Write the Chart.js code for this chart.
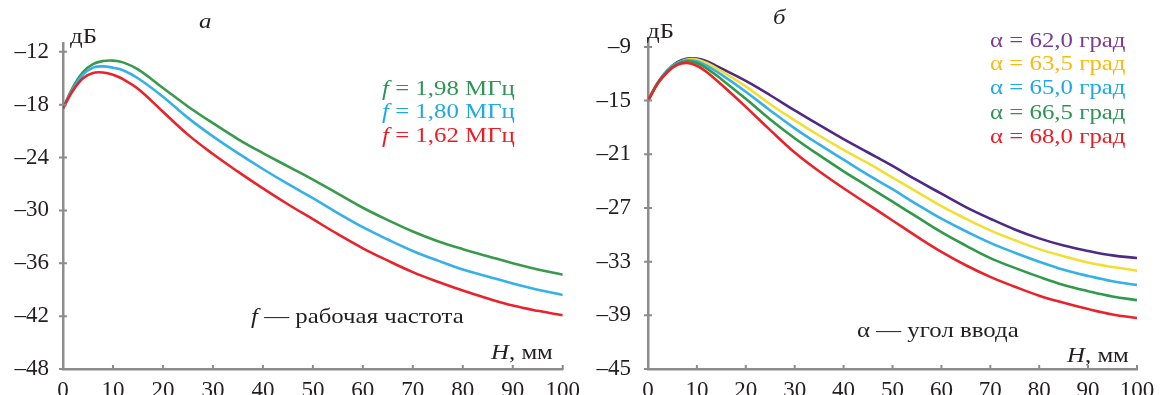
<!DOCTYPE html>
<html>
<head>
<meta charset="utf-8">
<script src="https://cdn.jsdelivr.net/npm/chart.js@4/dist/chart.umd.min.js"></script>
<style>
  html, body { margin: 0; padding: 0; background: #fff; }
  #wrap { position: relative; width: 1163px; height: 395px; overflow: hidden; font-family: "Liberation Serif", "Times New Roman", serif; }
  canvas { position: absolute; top: 0; }
  .t { position: absolute; white-space: nowrap; font-size: 22px; line-height: 24px; color: #231f20; transform: scaleX(1.13); transform-origin: 0 0; }
  .i { font-style: italic; }
</style>
</head>
<body>
<div id="wrap">
  <canvas id="cvA" width="580" height="395" style="left:0"></canvas>
  <canvas id="cvB" width="583" height="395" style="left:580px"></canvas>

  <div class="t" style="left:70px;top:24px">дБ</div>
  <div class="t i" style="left:199px;top:9px">а</div>
  <div class="t" style="left:382px;top:76px;color:#2e9455"><span class="i">f</span> = 1,98 МГц</div>
  <div class="t" style="left:382px;top:99px;color:#1ea9e6"><span class="i">f</span> = 1,80 МГц</div>
  <div class="t" style="left:382px;top:123px;color:#ec1c24"><span class="i">f</span> = 1,62 МГц</div>
  <div class="t" style="left:251px;top:304px"><span class="i">f</span> — рабочая частота</div>
  <div class="t" style="left:491px;top:340px"><span class="i">H</span>, мм</div>

  <div class="t" style="left:647px;top:19px">дБ</div>
  <div class="t i" style="left:773px;top:5px">б</div>
  <div class="t" style="left:990px;top:28px;color:#7b3b94">α = 62,0 град</div>
  <div class="t" style="left:990px;top:51px;color:#fdb913">α = 63,5 град</div>
  <div class="t" style="left:990px;top:75px;color:#1ea9e6">α = 65,0 град</div>
  <div class="t" style="left:990px;top:100px;color:#2e9455">α = 66,5 град</div>
  <div class="t" style="left:990px;top:124px;color:#ec1c24">α = 68,0 град</div>
  <div class="t" style="left:857px;top:318px">α — угол ввода</div>
  <div class="t" style="left:1067px;top:343px"><span class="i">H</span>, мм</div>
</div>

<script>
// ---- data ----
const hMm = [0, 2, 4, 6, 8, 10, 12, 15, 20, 25, 30, 35, 40, 45, 50, 55, 60, 65, 70, 75, 80, 85, 90, 95, 100];

// left, "а": f = rabochaya chastota
const f198 = [-18.4, -16.0, -14.3, -13.4, -13.05, -13.0, -13.2, -14.0, -16.1, -18.2, -20.1, -21.9, -23.5, -25.0, -26.5, -28.1, -29.7, -31.1, -32.4, -33.5, -34.4, -35.2, -36.0, -36.7, -37.3];
const f180 = [-18.4, -16.2, -14.6, -13.8, -13.65, -13.8, -14.1, -15.0, -17.1, -19.5, -21.6, -23.5, -25.3, -27.0, -28.6, -30.3, -31.9, -33.3, -34.6, -35.7, -36.7, -37.5, -38.3, -39.0, -39.6];
const f162 = [-18.4, -16.4, -15.0, -14.4, -14.35, -14.6, -15.1, -16.2, -18.8, -21.4, -23.6, -25.6, -27.5, -29.3, -31.0, -32.7, -34.3, -35.7, -37.0, -38.1, -39.1, -40.0, -40.8, -41.4, -41.9];

// right, "б": alpha = ugol vvoda
const a620 = [-15.0, -13.0, -11.6, -10.7, -10.3, -10.3, -10.6, -11.4, -12.8, -14.4, -16.1, -17.7, -19.3, -20.8, -22.3, -23.9, -25.4, -26.9, -28.2, -29.4, -30.4, -31.2, -31.8, -32.3, -32.6];
const a635 = [-15.0, -13.0, -11.6, -10.8, -10.4, -10.4, -10.8, -11.7, -13.4, -15.4, -17.2, -18.9, -20.5, -22.0, -23.6, -25.2, -26.8, -28.2, -29.5, -30.6, -31.6, -32.4, -33.1, -33.6, -34.0];
const a650 = [-15.0, -13.0, -11.6, -10.8, -10.5, -10.6, -11.1, -12.1, -14.0, -16.1, -18.1, -19.9, -21.6, -23.3, -24.9, -26.6, -28.2, -29.6, -30.9, -32.0, -33.0, -33.9, -34.6, -35.2, -35.6];
const a665 = [-15.0, -13.0, -11.7, -10.9, -10.6, -10.8, -11.4, -12.6, -14.8, -17.1, -19.2, -21.1, -22.9, -24.6, -26.3, -28.0, -29.7, -31.2, -32.6, -33.7, -34.7, -35.6, -36.3, -36.9, -37.3];
const a680 = [-15.0, -13.1, -11.8, -11.0, -10.8, -11.1, -11.8, -13.2, -15.7, -18.3, -20.8, -22.9, -24.8, -26.6, -28.4, -30.2, -31.9, -33.4, -34.7, -35.8, -36.8, -37.6, -38.3, -38.9, -39.3];

const xTicks = [0, 10, 20, 30, 40, 50, 60, 70, 80, 90, 100];
const yTicksA = [-48, -42, -36, -30, -24, -18, -12];
const yTicksB = [-45, -39, -33, -27, -21, -15, -9];

const AXIS = "#8c8c8c";
const FONT = { family: "'Liberation Serif', 'Times New Roman', serif", size: 23 };

// small tick marks crossing the axes
const crossTicks = {
  id: "crossTicks",
  afterDraw(chart) {
    const { ctx, chartArea: a, scales: { x, y } } = chart;
    ctx.save();
    ctx.strokeStyle = AXIS;
    ctx.lineWidth = 2;
    ctx.beginPath();
    y.ticks.forEach((t) => {
      const py = y.getPixelForValue(t.value);
      ctx.moveTo(a.left - 4, py); ctx.lineTo(a.left + 4, py);
    });
    x.ticks.forEach((t) => {
      const px = x.getPixelForValue(t.value);
      ctx.moveTo(px, a.bottom - 4); ctx.lineTo(px, a.bottom + 1);
    });
    ctx.stroke();
    ctx.restore();
  },
};

function serie(data, color) {
  return {
    data: hMm.map((h, i) => ({ x: h, y: data[i] })),
    borderColor: color, borderWidth: 2.6, pointRadius: 0,
    tension: 0.4, fill: false,
  };
}

function makeChart(id, datasets, yTicks, yMax, yWidth, padRight, padTop, labPad) {
  return new Chart(document.getElementById(id), {
    type: "line",
    plugins: [crossTicks],
    data: { datasets },
    options: {
      responsive: false, animation: false, devicePixelRatio: 1,
      layout: { padding: { left: 0, right: padRight, top: padTop, bottom: 0 } },
      plugins: { legend: { display: false }, tooltip: { enabled: false } },
      scales: {
        x: {
          type: "linear", min: 0, max: 100,
          afterBuildTicks: (s) => { s.ticks = xTicks.map((v) => ({ value: v })); },
          afterFit: (s) => { s.height = 26; },
          grid: { display: false },
          border: { display: true, color: AXIS, width: 2.5 },
          ticks: { color: "#231f20", font: FONT, padding: 0, maxRotation: 0, autoSkip: false },
        },
        y: {
          type: "linear", min: yTicks[0], max: yMax,
          afterBuildTicks: (s) => { s.ticks = yTicks.map((v) => ({ value: v })); },
          afterFit: (s) => { s.width = yWidth; },
          grid: { display: false },
          border: { display: true, color: AXIS, width: 2.5 },
          ticks: {
            color: "#231f20", font: FONT, padding: labPad, autoSkip: false,
            callback: (v) => (v < 0 ? "–" + Math.abs(v) : String(v)),
          },
        },
      },
    },
  });
}

makeChart("cvA", [
  serie(f162, "#e8232b"),
  serie(f180, "#36b0e8"),
  serie(f198, "#3a9a4c"),
], yTicksA, -11, 63, 17, 43, 6);

makeChart("cvB", [
  serie(a680, "#e8232b"),
  serie(a665, "#2f9a48"),
  serie(a650, "#36b0e8"),
  serie(a635, "#f2df33"),
  serie(a620, "#4f2a85"),
], yTicksB, -8, 68, 26, 38, 9);
</script>
</body>
</html>
